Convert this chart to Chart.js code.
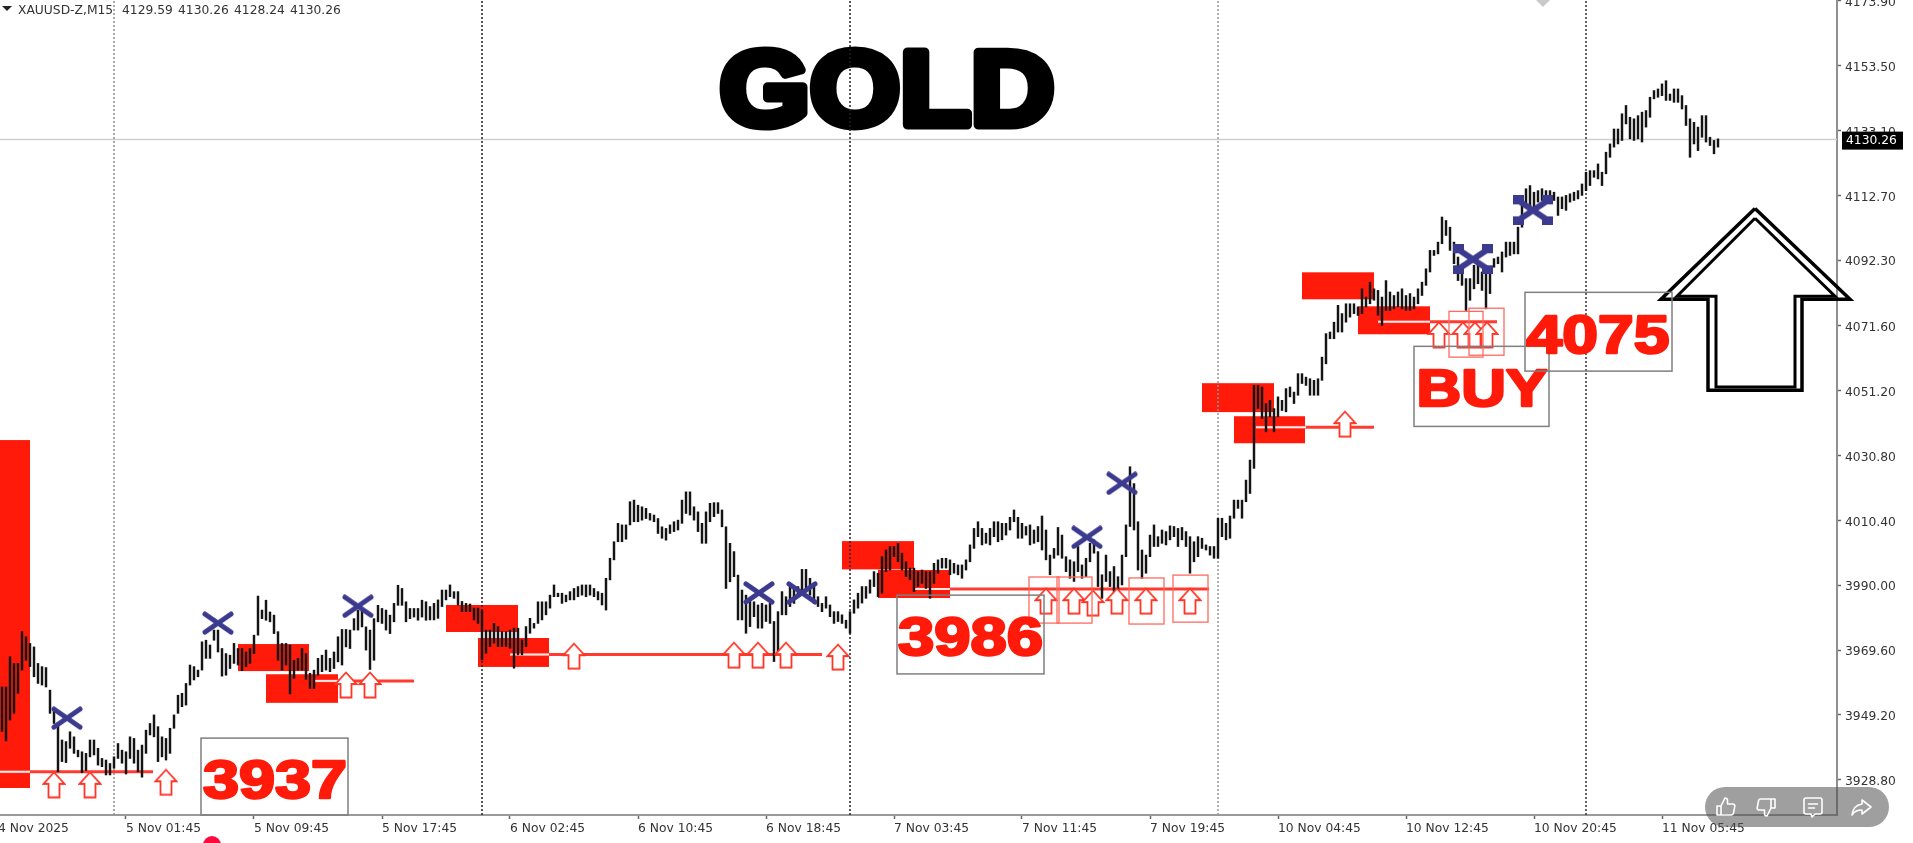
<!DOCTYPE html>
<html>
<head>
<meta charset="utf-8">
<title>GOLD</title>
<script src="https://cdn.jsdelivr.net/npm/chart.js@4/dist/chart.umd.min.js"></script>
<style>
  html, body { margin: 0; padding: 0; background: #fff; overflow: hidden; width: 1913px; height: 843px; }
  #priceChart { position: absolute; left: -2px; top: 0; filter: blur(0.35px); }
  .pill { position: absolute; left: 1705px; top: 787px; width: 184px; height: 40px; border-radius: 20px; background: rgba(80,80,80,0.55); }
  .pill svg { position: absolute; top: 8px; width: 24px; height: 24px; fill: none; stroke: #fff; stroke-width: 1.6; stroke-linejoin: round; stroke-linecap: round; }
  .dot { position: absolute; left: 203px; top: 836px; width: 18px; height: 18px; border-radius: 50%; background: #ff0a3c; }
</style>
</head>
<body>
<canvas id="priceChart" width="1915" height="843"></canvas>
<div class="dot"></div>
<div class="pill">
  <svg style="left:9px" viewBox="0 0 24 24"><path d="M7 11v9H3v-9h4zm0 0l4-8c1.5 0 2.5 1 2.5 2.5V9h5.5c1.2 0 2 1 1.8 2.2l-1.3 7c-.2 1-1 1.8-2 1.8H7"/></svg>
  <svg style="left:49px" viewBox="0 0 24 24"><path d="M17 13V4h4v9h-4zm0 0l-4 8c-1.5 0-2.5-1-2.5-2.5V15H5c-1.2 0-2-1-1.8-2.2l1.3-7C4.700 4.800 5.500 4 6.500 4H17"/></svg>
  <svg style="left:96px" viewBox="0 0 24 24"><path d="M5 3h14a2 2 0 0 1 2 2v12a2 2 0 0 1-2 2h-5l-3 3-1-3H5a2 2 0 0 1-2-2V5a2 2 0 0 1 2-2zM7.500 9h9M7.500 13h6"/></svg>
  <svg style="left:144px" viewBox="0 0 24 24"><path d="M13 5l9 7-9 7v-4c-5 0-8 1.500-10 5 .5-6 4-10 10-11z"/></svg>
</div>
<script>
// --- DATA (M15 bars, one high and one low per bar) ---
const barHigh = [
  3958,3958,3958,3967.5,3965.4,3965.4,3975.4,3973.8,3971.7,3970.6,
  3965.4,3964.4,3964.1,3957,3951.2,3946.5,3941.3,3940.8,3943.9,3942.3,
  3938.1,3937.6,3937.1,3941.3,3941.3,3938.7,3935.5,3935,3933.9,3936,
  3940.2,3938.1,3937.6,3942.3,3941.8,3938.1,3939.7,3944.4,3946.5,3949.2,
  3945.5,3942.3,3941.8,3945,3949.2,3955.4,3956,3959.1,3964.9,3964.4,
  3963.3,3972.2,3972.7,3971.2,3975.9,3975.9,3970.1,3968.5,3968,3971.7,
  3970.1,3970.1,3969,3970.1,3974.3,3986.6,3982.2,3985.3,3981.6,3980.6,
  3975.4,3971.7,3971.7,3971.2,3966.4,3967,3970.1,3968.5,3962.3,3963.3,
  3967,3968,3969.6,3967,3969,3973.8,3976.1,3976.1,3975.9,3979.5,
  3982.2,3982.7,3976.9,3975.9,3979.5,3983.7,3982.7,3982.2,3980.6,3984.3,
  3990,3989,3984.8,3982.7,3982.7,3982.7,3985.3,3984.8,3983.3,3984.3,
  3985.4,3988.5,3988.5,3990.1,3988,3988,3984.9,3984.3,3984.1,3982.8,
  3982.8,3982.2,3975.9,3975.9,3978,3977,3975.4,3975.4,3975.9,3976.5,
  3976.5,3972.8,3977,3979.6,3978,3984.8,3984.8,3984.8,3986.9,3990.1,
  3987.5,3987.5,3986.9,3988,3989,3989.6,3990.1,3990.1,3990.1,3989,
  3988,3987.5,3992.2,3998.5,4003.7,4009.5,4009,4009,4016.3,4016.8,
  4015.2,4014.7,4014.2,4012.6,4012.1,4011,4008.4,4007.9,4009,4010,
  4010.5,4016.8,4019.4,4019.4,4014.7,4013.1,4009.5,4013.1,4015.8,4016,
  4016,4013.7,4008.4,4003.2,4000.6,3993.2,3988.5,3986.9,3985.4,3984.8,
  3983.8,3984.3,3983.8,3984.3,3978.6,3981.7,3988,3986.4,3989.6,3989.6,
  3989.6,3995,3995,3992.2,3990.1,3986.4,3984.3,3986.4,3983.8,3981.7,
  3981.7,3980.7,3979,3981.7,3985.4,3987.5,3989.6,3989.6,3991.7,3994.3,
  3993.8,3999,4001.1,4002.2,4002.2,4003.2,4000.1,3997.4,3995.4,3995.4,
  3994.3,3994.8,3994.3,3994.3,3996.9,3998,3998.5,3998.5,3998,3996.9,
  3996.4,3996.4,3998,4002.7,4007.9,4010,4007.9,4006.4,4007.9,4010,
  4010,4009.5,4009.5,4011.4,4013.7,4011.4,4009.5,4008.5,4009,4007.4,
  4008.5,4011.8,4007.4,3999.5,4001.6,4008.2,4005.8,3999,3998,3997.4,
  4002.2,3996.4,3998.5,4003.2,4004.3,4000.6,3993.3,3999.5,3994.3,3995.9,
  3992.7,3999.5,4009,4027.3,4022,4010,4001.1,3999.5,4005.8,4009,
  4005.3,4007.4,4006.9,4008.7,4008.5,4007.9,4008.2,4006.9,4005.3,4003.7,
  4005.3,4004.8,4002.7,4002.2,4002.2,4011.1,4011.1,4009.5,4011.8,4016.8,
  4016.8,4016.8,4023.1,4029.4,4052.9,4052.9,4052.4,4047.2,4048.2,4045.6,
  4049.3,4048.2,4051.9,4052.4,4050.8,4056.6,4056.6,4055.5,4055,4054.5,
  4055,4061.8,4069.2,4069.7,4072.8,4078.1,4075.5,4078.6,4078.6,4078.6,
  4077.6,4083.3,4080.7,4085.4,4083.3,4082.8,4080.7,4085.9,4082.3,4081.2,
  4082.3,4083.3,4081.2,4081.8,4080.7,4083.3,4085.4,4089.6,4095.4,4095.4,
  4098,4105.9,4104.8,4102.7,4098,4093.3,4089.6,4086.5,4086.5,4090.7,
  4091.2,4088.6,4090.7,4090.1,4092.8,4093.3,4094.9,4098,4098,4098,
  4102.7,4110,4114.8,4115.8,4113.7,4114.2,4114.8,4114.2,4114.2,4113.7,
  4112.2,4112.2,4112.7,4113.2,4113.7,4114.2,4116.3,4120,4120.5,4120.5,
  4122.6,4120,4126.3,4128.9,4133.6,4133.6,4138.4,4141,4137.3,4136.8,
  4137.8,4138.9,4139.4,4143.6,4145.7,4146.2,4147.8,4148.8,4144.6,4146.2,
  4146.2,4144.1,4141,4136.8,4135.7,4134.2,4137.8,4137.8,4131,4130,
  4130.5
];
const barLow = [
  3944,3944,3941,3947.6,3949.7,3956,3963.3,3966.4,3964.4,3961.2,
  3959.1,3958.6,3958,3949.7,3946.5,3931.3,3934.5,3934.2,3938.7,3937.1,
  3936,3931,3931.7,3936,3936.6,3933.4,3932.9,3930.3,3930.3,3932.4,
  3935.5,3934,3930.6,3935.5,3934,3931.3,3929.6,3937.1,3942.9,3942.3,
  3934.5,3936,3935,3937.1,3945,3949.7,3951.8,3952.3,3958.6,3960.2,
  3961.2,3963.3,3967,3967,3972.7,3969,3961.4,3961.7,3963.8,3965.4,
  3964.9,3963.1,3964.4,3965.4,3968.5,3974.3,3979.5,3979,3978.5,3974.8,
  3966.4,3963.3,3964.9,3955.8,3960.7,3963.3,3963.3,3960.4,3957.5,3957.5,
  3961.7,3962.8,3963.3,3962.8,3963.8,3965.9,3964.9,3970.6,3970.1,3975.9,
  3975.9,3976.9,3969.6,3963.5,3966.4,3978.5,3978,3975.9,3974.8,3978.5,
  3983.7,3983.7,3978.5,3979.5,3980,3979,3980,3979,3979.1,3979.1,
  3979.6,3983.3,3985.4,3986.4,3985.9,3983.8,3981.7,3981.7,3981.7,3979.1,
  3978,3966.5,3968.6,3970.7,3971.8,3970.7,3970.7,3970.7,3970.2,3963.9,
  3968.1,3968.1,3970.7,3974.9,3976.5,3978,3979.1,3980.7,3982.8,3986.4,
  3986.4,3984.3,3984.8,3985.4,3985.4,3986.4,3986.9,3986.4,3986.9,3986.4,
  3985.4,3983.8,3982.2,3991.7,3998,4003.7,4003.7,4004.5,4009,4010,
  4010,4010.5,4011,4010.5,4010,4006.3,4004.8,4004.2,4006.3,4006.9,
  4007.4,4009.5,4012.6,4012.1,4010.5,4006.9,4003.2,4003.2,4010,4011.6,
  4012.6,4008.4,3989,3991.1,3992.7,3979.1,3979.1,3974.9,3977,3980.1,
  3976.5,3976.5,3978.6,3978,3966,3968.6,3980.7,3980.7,3983.3,3984.3,
  3986.4,3987.5,3988.5,3986.9,3984.3,3983.3,3981.7,3982.8,3980.1,3978,
  3978.6,3978,3976.5,3974.9,3981.2,3982.8,3984.4,3985.9,3987.5,3989.6,
  3986.4,3987.5,3994.3,3994.8,3999,3997.4,3994.8,3992.7,3991.7,3988,
  3989.6,3990.6,3989,3985.9,3990.6,3993.8,3995.4,3995.4,3993.3,3993.8,
  3993.3,3992.2,3994.8,3997.4,4001.6,4005.3,4002.7,4003.2,4002.7,4005.3,
  4003.7,4004.3,4005.8,4007.4,4010,4004.8,4004.8,4005.8,4002.7,4003.2,
  4003.7,4001.1,3998,3993.3,3998.5,3999.5,3998.5,3994.3,3992.2,3991.2,
  3994.3,3992.2,3992.7,3997.4,4000.1,3989.6,3985.9,3991.2,3989.6,3987,
  3983.8,3990.1,3999,4008.5,4007.4,3994.8,3992.2,3993.8,3999,4002.2,
  4002.2,4003.2,4002.7,4004.3,4005.3,4002.2,4004.3,4002.2,3993.8,3997.4,
  3999,4001.6,4001.1,3999.5,3998.5,3998.5,4005.3,4004.3,4004.8,4011.1,
  4014.2,4011.1,4016.3,4018.9,4026.8,4045.6,4042.5,4038.3,4043,4038.3,
  4043,4045,4044.6,4049.3,4047.2,4049.8,4053.5,4052.9,4049.8,4049.8,
  4049.8,4054.5,4059.7,4067.6,4067.6,4069.7,4069.7,4072.8,4074.4,4075.5,
  4074.9,4075.5,4077.6,4078.6,4079.7,4075,4071.8,4076.5,4076.5,4077,
  4077.6,4077,4076.5,4076.5,4077,4078.6,4081.2,4084.4,4088.6,4093.8,
  4094.3,4097.5,4100.1,4095.4,4091.2,4085.9,4084.4,4076.5,4079.7,4083.3,
  4084.9,4082.8,4077,4081.8,4090.1,4091.2,4088.6,4093.3,4093.8,4094.3,
  4094.3,4102.7,4109,4109,4108.5,4110.6,4111.1,4111.1,4111.6,4111.1,
  4106.4,4108.5,4108,4110.6,4111.1,4111.6,4112.7,4114.2,4115.8,4118.4,
  4117.9,4115.8,4119.5,4124.7,4127.9,4128.9,4130,4135.2,4130.5,4130,
  4130.5,4129.5,4134.2,4137.3,4143.1,4143.6,4144.1,4142.6,4142.6,4142,
  4142,4139.9,4134.7,4124.7,4128.9,4126.8,4131,4129.5,4128.4,4125.8,
  4127.9
];

const xTickBars = [0, 32, 64, 96, 128, 160, 192, 224, 256, 288, 320, 352, 384, 416];
const xTickLabels = ['4 Nov 2025', '5 Nov 01:45', '5 Nov 09:45', '5 Nov 17:45', '6 Nov 02:45', '6 Nov 10:45', '6 Nov 18:45',
  '7 Nov 03:45', '7 Nov 11:45', '7 Nov 19:45', '10 Nov 04:45', '10 Nov 12:45', '10 Nov 20:45', '11 Nov 05:45'];
const yTickValues = [3928.8, 3949.2, 3969.6, 3990, 4010.4, 4030.8, 4051.2, 4071.6, 4092.3, 4112.7, 4133.1, 4153.5, 4173.9];

const symbolName = 'XAUUSD-Z,M15';
const ohlcValues = ['4129.59', '4130.26', '4128.24', '4130.26'];
const lastPrice = 4130.26;

// period separators
const separatorBars = [29, 121, 213, 305, 397];
const separatorColors = ['#8c8c8c', '#222', '#222', '#999', '#333'];

// supply / demand zones
const zoneStart = [-1, 60, 67, 112, 120, 211, 220, 301, 309, 326, 340];
const zoneEnd = [8, 77.75, 85, 130, 137.75, 229, 238, 319, 326.75, 344, 358];
const zoneTop = [4035.7, 3971.5, 3962, 3983.8, 3973.4, 4003.9, 3994.8, 4053.6, 4043.2, 4088.5, 4077.8];
const zoneBottom = [3926.2, 3963, 3953, 3975.3, 3964.3, 3995, 3986, 4044.5, 4034.7, 4080, 4069];

// red levels, and the part of each that shows white inside a zone
const levelPrice = [3931.3, 3959.9, 3968.2, 3988.8, 4039.7, 4072.9];
const levelStart = [0, 79, 128, 238, 314, 345];
const levelEnd = [38.75, 104, 206, 302.75, 344, 374.75];
const levelWhiteStart = [0, 79, 128, 229.25, 314.5, 345];
const levelWhiteEnd = [8, 85, 137.75, 238, 327, 358];

// up arrows
const arrowBars = [14, 23, 42, 87, 93, 144, 184, 190, 197, 210, 262, 269, 273.75, 279.75, 287, 298, 336.75, 360.25, 366.25, 369.25, 372.25];
const arrowPrices = [3927.2, 3927.2, 3928, 3958.6, 3958.6, 3967.7, 3968, 3968, 3968, 3967.4, 3985, 3985, 3984.4, 3985, 3985, 3985, 4040.7, 4068.8, 4068.8, 4068.8, 4068.8];

// thin squares round some arrows
const squareStart = [257.75, 264.75, 282.75, 293.75, 362.75, 367.75];
const squareEnd = [265.25, 273.5, 291.5, 302.5, 371.25, 376.5];
const squareTop = [3992.6, 3992.6, 3992.3, 3993.2, 4076.2, 4077.2];
const squareBottom = [3978.1, 3978.1, 3977.8, 3978.4, 4061.8, 4062.4];

// blue crosses
const crossBars = [17.25, 55, 90, 190.25, 201, 272.25, 281];
const crossPrices = [3948.2, 3978.1, 3983.4, 3987.6, 3987.6, 4005.1, 4022.1];
const heavyCrossBars = [368.75, 383.75];
const heavyCrossPrices = [4092.6, 4108];

// red price notes
const noteLabels = ['3937', '3986', 'BUY', '4075'];
const noteBoxLeft = [50.75, 224.75, 354, 381.75];
const noteBoxRight = [87.5, 261.5, 387.75, 418.5];
const noteBoxTop = [3941.9, 3986.9, 4065.2, 4082.2];
const noteBoxBottom = [3917.7, 3962.1, 4040, 4057.4];
const noteTextLeft = [51.25, 225, 355.25, 382];
const noteTextRight = [87, 261, 387.5, 417.75];
const noteTextTop = [3935, 3980, 4058.3, 4075.3];
const noteTextBottom = [3922.4, 3967.4, 4046, 4062.7];

// big hand drawn arrow, outer and inner outline
const bigArrowOuterBars = [439.25, 463, 451, 451, 427.5, 427.5, 415.75, 439.25];
const bigArrowOuterPrices = [4108.6, 4080, 4080, 4051.4, 4051.4, 4080, 4080, 4108.6];
const bigArrowInnerBars = [439.25, 459.25, 449.25, 449.25, 429.5, 429.5, 419.75, 439.25];
const bigArrowInnerPrices = [4105.5, 4081, 4081, 4052.4, 4052.4, 4081, 4081, 4105.5];

const titleText = 'GOLD';
const titleBox = { left: 180.5, right: 264.25, top: 4159.6, bottom: 4133.1 };

const yMin = 3917.7;
const yMax = 4174.2;
const xMax = 459.75;
const TICK_FONT = { family: '"DejaVu Sans"', size: 12.3 };

// --- HELPERS ---
function makeCanvas(w, h, draw) {
  const c = document.createElement('canvas');
  c.width = w;
  c.height = h;
  draw(c.getContext('2d'), w, h);
  return c;
}

const upArrowImg = makeCanvas(24, 28, (g) => {
  g.beginPath();
  g.moveTo(12, 1.5); g.lineTo(22.500, 13); g.lineTo(17.500, 13); g.lineTo(17.500, 26.500);
  g.lineTo(6.500, 26.500); g.lineTo(6.500, 13); g.lineTo(1.500, 13); g.closePath();
  g.fillStyle = '#fff';
  g.fill();
  g.strokeStyle = '#ff3526';
  g.lineWidth = 1.8;
  g.stroke();
});

const crossImg = makeCanvas(32, 24, (g, w, h) => {
  g.strokeStyle = '#3c3a8e';
  g.lineWidth = 5;
  g.lineCap = 'round';
  g.beginPath();
  g.moveTo(3, 3); g.lineTo(w - 3, h - 3);
  g.moveTo(w - 3, 3); g.lineTo(3, h - 3);
  g.stroke();
});

const heavyCrossImg = makeCanvas(40, 30, (g, w, h) => {
  g.strokeStyle = '#3c3a8e';
  g.fillStyle = '#3c3a8e';
  g.lineWidth = 6;
  g.beginPath();
  g.moveTo(5, 5); g.lineTo(w - 5, h - 5);
  g.moveTo(w - 5, 5); g.lineTo(5, h - 5);
  g.stroke();
  g.fillRect(0, 0, 11, 9);
  g.fillRect(w - 11, 0, 11, 9);
  g.fillRect(0, h - 9, 11, 9);
  g.fillRect(w - 11, h - 9, 11, 9);
});

function lineSet(points, color, width, order, extra) {
  return Object.assign({
    type: 'line',
    data: points,
    borderColor: color,
    borderWidth: width,
    pointRadius: 0,
    tension: 0,
    fill: false,
    order: order
  }, extra || {});
}

function pointSet(bars, prices, img, order) {
  return {
    type: 'scatter',
    data: bars.map((b, i) => ({ x: b, y: prices[i] })),
    pointStyle: img,
    pointRadius: 6,
    showLine: false,
    order: order
  };
}

// text stretched so its ink fills the given pixel box
function fitText(ctx, text, left, right, top, bottom, color, stroke) {
  ctx.save();
  ctx.font = 'bold 100px "Liberation Sans"';
  ctx.textAlign = 'left';
  ctx.textBaseline = 'alphabetic';
  const m = ctx.measureText(text);
  const inkW = m.actualBoundingBoxLeft + m.actualBoundingBoxRight;
  const inkH = m.actualBoundingBoxAscent + m.actualBoundingBoxDescent;
  const sx = (right - left - stroke) / inkW;
  const sy = (bottom - top - stroke) / inkH;
  ctx.translate(left + stroke / 2 + m.actualBoundingBoxLeft * sx, bottom - stroke / 2 - m.actualBoundingBoxDescent * sy);
  ctx.scale(sx, sy);
  ctx.fillStyle = color;
  ctx.strokeStyle = color;
  ctx.lineJoin = 'round';
  ctx.lineWidth = stroke / Math.min(sx, sy);
  ctx.strokeText(text, 0, 0);
  ctx.fillText(text, 0, 0);
  ctx.restore();
}

// --- OWN DRAWING ON THE SCALES ---
const overlayPlugin = {
  id: 'overlay',
  beforeDatasetsDraw(chart) {
    const { ctx, scales: { x, y }, chartArea } = chart;
    ctx.save();
    ctx.beginPath();
    ctx.rect(chartArea.left, chartArea.top, chartArea.width, chartArea.height);
    ctx.clip();
    fitText(ctx, titleText, x.getPixelForValue(titleBox.left), x.getPixelForValue(titleBox.right),
      y.getPixelForValue(titleBox.top), y.getPixelForValue(titleBox.bottom), '#000', 9);
    ctx.fillStyle = '#ff1a0a';
    zoneStart.forEach((s, i) => {
      const px = x.getPixelForValue(s);
      const py = y.getPixelForValue(zoneTop[i]);
      ctx.fillRect(px, py, x.getPixelForValue(zoneEnd[i]) - px, y.getPixelForValue(zoneBottom[i]) - py);
    });
    ctx.restore();
  },
  afterDatasetsDraw(chart) {
    const { ctx, scales: { x, y } } = chart;
    ctx.save();
    ctx.lineWidth = 1.3;
    ctx.strokeStyle = '#ff6a60';
    squareStart.forEach((s, i) => {
      const px = x.getPixelForValue(s);
      const py = y.getPixelForValue(squareTop[i]);
      ctx.strokeRect(px, py, x.getPixelForValue(squareEnd[i]) - px, y.getPixelForValue(squareBottom[i]) - py);
    });
    ctx.lineWidth = 1.5;
    ctx.strokeStyle = '#7f7f7f';
    noteLabels.forEach((label, i) => {
      const px = x.getPixelForValue(noteBoxLeft[i]);
      const py = y.getPixelForValue(noteBoxTop[i]);
      ctx.strokeRect(px, py, x.getPixelForValue(noteBoxRight[i]) - px, y.getPixelForValue(noteBoxBottom[i]) - py);
      fitText(ctx, label, x.getPixelForValue(noteTextLeft[i]), x.getPixelForValue(noteTextRight[i]),
        y.getPixelForValue(noteTextTop[i]), y.getPixelForValue(noteTextBottom[i]), '#ff1a0a', 2.5);
    });
    ctx.restore();
  },
  afterDraw(chart) {
    const { ctx, scales: { y } } = chart;
    ctx.save();
    // header line
    ctx.font = '12.3px "DejaVu Sans"';
    ctx.fillStyle = '#333';
    ctx.textBaseline = 'alphabetic';
    ctx.textAlign = 'left';
    ctx.fillText(symbolName, 20, 14);
    ohlcValues.forEach((v, i) => ctx.fillText(v, 124 + i * 56, 14));
    ctx.fillStyle = '#222';
    ctx.beginPath();
    ctx.moveTo(4, 6); ctx.lineTo(14, 6); ctx.lineTo(9, 11); ctx.closePath();
    ctx.fill();
    // last price tag
    const py = y.getPixelForValue(lastPrice);
    ctx.fillStyle = '#000';
    ctx.fillRect(1844, py - 8, 61, 18);
    ctx.fillStyle = '#fff';
    ctx.textBaseline = 'middle';
    ctx.fillText(lastPrice.toFixed(2), 1848, py + 1.5);
    ctx.restore();
  }
};

// --- CHART ---
function initChart() {
  const ctx = document.getElementById('priceChart').getContext('2d');
  const datasets = [];

  // candles
  datasets.push({
    type: 'bar',
    data: barHigh.map((h, i) => ({ x: i, y: [barLow[i], h] })),
    backgroundColor: '#141414',
    borderWidth: 0,
    borderSkipped: false,
    barThickness: 1.8,
    order: 5
  });

  // separators and price line
  separatorBars.forEach((b, i) => {
    datasets.push(lineSet([{ x: b, y: yMin }, { x: b, y: yMax }], separatorColors[i], 1.5, 8, { borderDash: [2, 2] }));
  });
  datasets.push(lineSet([{ x: 0, y: lastPrice }, { x: xMax, y: lastPrice }], '#cfcfcf', 1.5, 9));

  // red levels
  levelPrice.forEach((p, i) => {
    datasets.push(lineSet([{ x: levelStart[i], y: p }, { x: levelEnd[i], y: p }], '#ff3a2e', 3, 7));
    datasets.push(lineSet([{ x: levelWhiteStart[i], y: p }, { x: levelWhiteEnd[i], y: p }], '#ffe9e6', 2, 6));
  });

  // markers
  datasets.push(pointSet(arrowBars, arrowPrices, upArrowImg, 4));
  datasets.push(pointSet(crossBars, crossPrices, crossImg, 2));
  datasets.push(pointSet(heavyCrossBars, heavyCrossPrices, heavyCrossImg, 2));

  // little chart-shift marker at the top
  datasets.push({
    type: 'scatter',
    data: [{ x: 386.25, y: yMax }],
    pointStyle: 'rectRot',
    pointRadius: 7,
    pointBackgroundColor: '#c9c9c9',
    pointBorderWidth: 0,
    order: 3
  });

  // big arrow
  datasets.push(lineSet(bigArrowOuterBars.map((b, i) => ({ x: b, y: bigArrowOuterPrices[i] })), '#000', 3.5, 1, { clip: false }));
  datasets.push(lineSet(bigArrowInnerBars.map((b, i) => ({ x: b, y: bigArrowInnerPrices[i] })), '#000', 3, 1, { clip: false }));

  new Chart(ctx, {
    type: 'line',
    data: { datasets: datasets },
    plugins: [overlayPlugin],
    options: {
      responsive: false,
      animation: false,
      events: [],
      layout: { padding: 0, autoPadding: false },
      plugins: { legend: { display: false }, tooltip: { enabled: false }, title: { display: false } },
      scales: {
        x: {
          type: 'linear',
          min: 0,
          max: xMax,
          offset: false,
          grid: { offset: false, drawOnChartArea: false, tickLength: 4, tickColor: '#666', tickWidth: 1.5 },
          border: { color: '#9a9a9a', width: 2 },
          afterBuildTicks: (s) => { s.ticks = xTickBars.map(v => ({ value: v })); },
          afterFit: (s) => { s.height = 28; s.paddingLeft = 0; s.paddingRight = 0; },
          ticks: {
            autoSkip: false,
            maxRotation: 0,
            minRotation: 0,
            align: 'start',
            padding: 2,
            color: '#333',
            font: TICK_FONT,
            callback: (v) => xTickLabels[xTickBars.indexOf(v)]
          }
        },
        y: {
          type: 'linear',
          position: 'right',
          min: yMin,
          max: yMax,
          grid: { drawOnChartArea: false, tickLength: 4, tickColor: '#666', tickWidth: 1.5 },
          border: { color: '#8f8f8f', width: 2 },
          afterBuildTicks: (s) => { s.ticks = yTickValues.map(v => ({ value: v })); },
          afterFit: (s) => { s.width = 76; s.paddingTop = 0; s.paddingBottom = 0; },
          ticks: {
            padding: 4,
            labelOffset: 2,
            color: '#333',
            font: TICK_FONT,
            callback: (v) => v.toFixed(2)
          }
        }
      }
    }
  });
}

window.addEventListener('load', initChart);
</script>
</body>
</html>
